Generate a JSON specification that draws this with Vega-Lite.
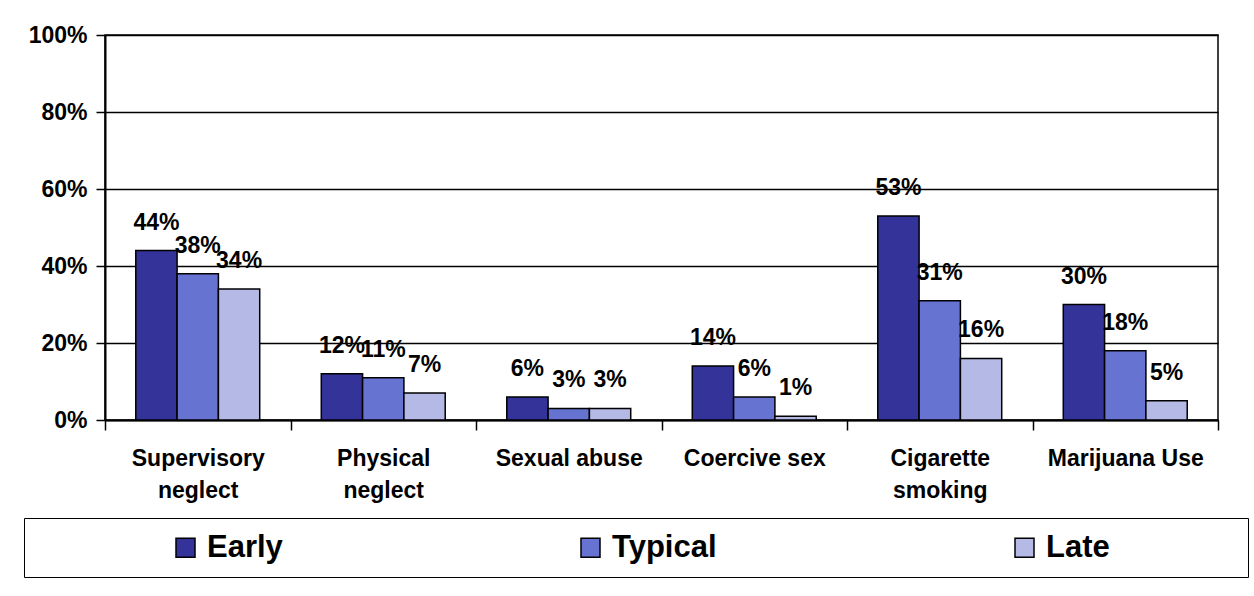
{
  "$schema": "https://vega.github.io/schema/vega-lite/v6.json",
  "width": 1113,
  "height": 385,
  "autosize": {"type": "none"},
  "padding": {"left": 105, "top": 35, "right": 36, "bottom": 176},
  "background": "white",
  "config": {
    "font": "Liberation Sans",
    "view": {"stroke": "black", "strokeWidth": 1.5}
  },
  "data": {
    "values": [
      {"category": "Supervisory neglect", "series": "Early", "value": 0.44},
      {"category": "Supervisory neglect", "series": "Typical", "value": 0.38},
      {"category": "Supervisory neglect", "series": "Late", "value": 0.34},
      {"category": "Physical neglect", "series": "Early", "value": 0.12},
      {"category": "Physical neglect", "series": "Typical", "value": 0.11},
      {"category": "Physical neglect", "series": "Late", "value": 0.07},
      {"category": "Sexual abuse", "series": "Early", "value": 0.06},
      {"category": "Sexual abuse", "series": "Typical", "value": 0.03},
      {"category": "Sexual abuse", "series": "Late", "value": 0.03},
      {"category": "Coercive sex", "series": "Early", "value": 0.14},
      {"category": "Coercive sex", "series": "Typical", "value": 0.06},
      {"category": "Coercive sex", "series": "Late", "value": 0.01},
      {"category": "Cigarette smoking", "series": "Early", "value": 0.53},
      {"category": "Cigarette smoking", "series": "Typical", "value": 0.31},
      {"category": "Cigarette smoking", "series": "Late", "value": 0.16},
      {"category": "Marijuana Use", "series": "Early", "value": 0.30},
      {"category": "Marijuana Use", "series": "Typical", "value": 0.18},
      {"category": "Marijuana Use", "series": "Late", "value": 0.05}
    ]
  },
  "encoding": {
    "x": {
      "field": "category",
      "type": "nominal",
      "sort": ["Supervisory neglect", "Physical neglect", "Sexual abuse", "Coercive sex", "Cigarette smoking", "Marijuana Use"],
      "scale": {"paddingInner": 0, "paddingOuter": 0},
      "axis": {
        "title": null,
        "labelAngle": 0,
        "tickBand": "extent",
        "ticks": true,
        "tickSize": 10,
        "tickColor": "black",
        "tickWidth": 1.5,
        "domainColor": "black",
        "domainWidth": 2,
        "grid": false,
        "labelPadding": 17,
        "labelBaseline": "top",
        "labelLineHeight": 32,
        "labelFontSize": 23,
        "labelFontWeight": "bold",
        "labelColor": "black",
        "labelOverlap": false,
        "labelLimit": 300,
        "labelExpr": "indexof(['Supervisory neglect','Physical neglect','Cigarette smoking'], datum.value) >= 0 ? split(datum.value, ' ') : datum.value"
      }
    },
    "xOffset": {
      "field": "series",
      "type": "nominal",
      "sort": ["Early", "Typical", "Late"],
      "scale": {"paddingInner": 0, "paddingOuter": 0.745}
    },
    "y": {
      "field": "value",
      "type": "quantitative",
      "scale": {"domain": [0, 1]},
      "axis": {
        "title": null,
        "values": [0, 0.2, 0.4, 0.6, 0.8, 1],
        "format": ".0%",
        "grid": true,
        "gridColor": "black",
        "gridWidth": 1.5,
        "gridOpacity": 1,
        "domainColor": "black",
        "domainWidth": 2,
        "tickColor": "black",
        "tickSize": 9,
        "tickWidth": 1.5,
        "labelFontSize": 23,
        "labelFontWeight": "bold",
        "labelColor": "black",
        "labelPadding": 9
      }
    }
  },
  "layer": [
    {
      "mark": {"type": "bar", "stroke": "black", "strokeWidth": 1.5},
      "encoding": {
        "color": {
          "field": "series",
          "type": "nominal",
          "scale": {"domain": ["Early", "Typical", "Late"], "range": ["#333399", "#6673D1", "#B4B9E6"]},
          "legend": {
            "orient": "none",
            "legendX": -81,
            "legendY": 483,
            "direction": "horizontal",
            "title": "\u00a0",
            "titleOrient": "left",
            "titleFontSize": 10,
            "titlePadding": 132,
            "strokeColor": "black",
            "fillColor": "white",
            "padding": 14,
            "symbolType": "square",
            "symbolSize": 361,
            "symbolStrokeColor": "black",
            "symbolStrokeWidth": 1.5,
            "symbolOpacity": 1,
            "labelFontSize": 31,
            "labelFontWeight": "bold",
            "labelColor": "black",
            "labelOffset": 6,
            "labelLimit": 400,
            "columnPadding": 292,
            "labelExpr": "datum.label == 'Late' ? 'Late\u2800\u2800\u2800\u2800 \u2800' : datum.label"
          }
        }
      }
    },
    {
      "mark": {"type": "text", "fontWeight": "bold", "fontSize": 23, "dy": -28, "baseline": "middle", "color": "black"},
      "encoding": {
        "text": {"field": "value", "type": "quantitative", "format": ".0%"}
      }
    }
  ]
}
